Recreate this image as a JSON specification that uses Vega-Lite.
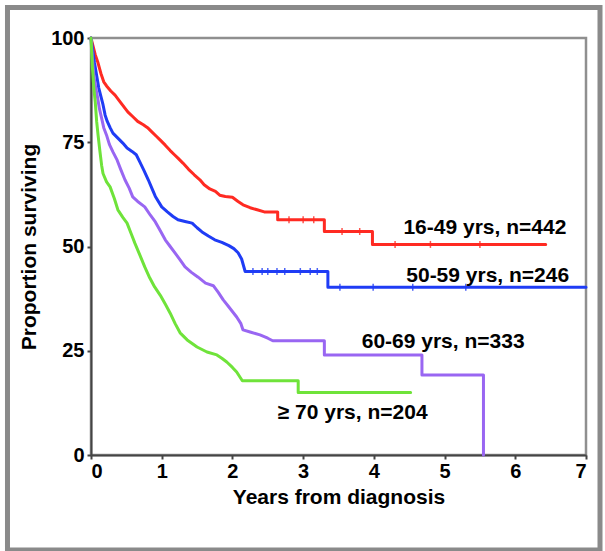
{
  "$schema": "https://vega.github.io/schema/vega-lite/v6.json",
  "width": 495,
  "height": 417,
  "autosize": {"type": "none"},
  "padding": {"left": 91, "top": 38, "right": 19, "bottom": 96},
  "background": "white",
  "config": {
    "font": "Liberation Sans",
    "view": {"stroke": "#8f8f8f", "strokeWidth": 2.5},
    "axis": {
      "grid": false,
      "labelFont": "Liberation Sans",
      "labelFontWeight": "bold",
      "labelFontSize": 20,
      "labelColor": "#000000",
      "titleFont": "Liberation Sans",
      "titleFontWeight": "bold",
      "titleFontSize": 21,
      "titleColor": "#000000",
      "domainColor": "#444444",
      "domainWidth": 2,
      "tickColor": "#444444",
      "tickWidth": 2,
      "tickSize": 4
    },
    "axisX": {"labelPadding": 2, "titlePadding": 5, "labelAngle": 0, "format": "d"},
    "axisY": {"labelPadding": 3, "titlePadding": 11, "format": "d"}
  },
  "datasets": {
    "curves": [
      {"group": "16-49", "t": 0, "s": 100},
      {"group": "16-49", "t": 0.03, "s": 98},
      {"group": "16-49", "t": 0.06, "s": 96},
      {"group": "16-49", "t": 0.1, "s": 94},
      {"group": "16-49", "t": 0.14, "s": 91.5},
      {"group": "16-49", "t": 0.18, "s": 89.5},
      {"group": "16-49", "t": 0.22, "s": 88.5},
      {"group": "16-49", "t": 0.28, "s": 87.3},
      {"group": "16-49", "t": 0.34, "s": 86.3},
      {"group": "16-49", "t": 0.42, "s": 84.5},
      {"group": "16-49", "t": 0.52, "s": 82.3},
      {"group": "16-49", "t": 0.6, "s": 81},
      {"group": "16-49", "t": 0.66, "s": 80},
      {"group": "16-49", "t": 0.74, "s": 79.2},
      {"group": "16-49", "t": 0.8, "s": 78.5},
      {"group": "16-49", "t": 0.86, "s": 77.5},
      {"group": "16-49", "t": 0.92, "s": 76.5},
      {"group": "16-49", "t": 0.98, "s": 75.5},
      {"group": "16-49", "t": 1.05, "s": 74.3},
      {"group": "16-49", "t": 1.12, "s": 73},
      {"group": "16-49", "t": 1.18, "s": 72},
      {"group": "16-49", "t": 1.23, "s": 71.2},
      {"group": "16-49", "t": 1.3, "s": 70},
      {"group": "16-49", "t": 1.38, "s": 68.5},
      {"group": "16-49", "t": 1.46, "s": 67.2},
      {"group": "16-49", "t": 1.54, "s": 66},
      {"group": "16-49", "t": 1.6, "s": 64.8},
      {"group": "16-49", "t": 1.68, "s": 63.8},
      {"group": "16-49", "t": 1.76, "s": 63.2},
      {"group": "16-49", "t": 1.82, "s": 62.3},
      {"group": "16-49", "t": 1.9, "s": 62},
      {"group": "16-49", "t": 2.0, "s": 61.8},
      {"group": "16-49", "t": 2.08, "s": 60.8},
      {"group": "16-49", "t": 2.15, "s": 60},
      {"group": "16-49", "t": 2.25, "s": 59.3},
      {"group": "16-49", "t": 2.35, "s": 58.8},
      {"group": "16-49", "t": 2.45, "s": 58.3},
      {"group": "16-49", "t": 2.64, "s": 58.3},
      {"group": "16-49", "t": 2.64, "s": 56.4},
      {"group": "16-49", "t": 3.3, "s": 56.4},
      {"group": "16-49", "t": 3.3, "s": 53.6},
      {"group": "16-49", "t": 3.98, "s": 53.6},
      {"group": "16-49", "t": 3.98, "s": 50.5},
      {"group": "16-49", "t": 6.43, "s": 50.5},

      {"group": "50-59", "t": 0, "s": 100},
      {"group": "50-59", "t": 0.02, "s": 97.5},
      {"group": "50-59", "t": 0.05, "s": 94},
      {"group": "50-59", "t": 0.08, "s": 91},
      {"group": "50-59", "t": 0.11, "s": 88},
      {"group": "50-59", "t": 0.14, "s": 86},
      {"group": "50-59", "t": 0.17, "s": 84},
      {"group": "50-59", "t": 0.2, "s": 81.5},
      {"group": "50-59", "t": 0.23, "s": 80},
      {"group": "50-59", "t": 0.27, "s": 78.5},
      {"group": "50-59", "t": 0.31, "s": 77.2},
      {"group": "50-59", "t": 0.38, "s": 76},
      {"group": "50-59", "t": 0.45, "s": 74.8},
      {"group": "50-59", "t": 0.51, "s": 73.6},
      {"group": "50-59", "t": 0.58, "s": 72.8},
      {"group": "50-59", "t": 0.64, "s": 72},
      {"group": "50-59", "t": 0.69, "s": 70.3},
      {"group": "50-59", "t": 0.75, "s": 68.2},
      {"group": "50-59", "t": 0.81, "s": 66},
      {"group": "50-59", "t": 0.86, "s": 64},
      {"group": "50-59", "t": 0.91, "s": 62},
      {"group": "50-59", "t": 1.0, "s": 59.5},
      {"group": "50-59", "t": 1.08, "s": 58.3},
      {"group": "50-59", "t": 1.16, "s": 57.2},
      {"group": "50-59", "t": 1.23, "s": 56.4},
      {"group": "50-59", "t": 1.33, "s": 56},
      {"group": "50-59", "t": 1.43, "s": 55.6},
      {"group": "50-59", "t": 1.5, "s": 54.5},
      {"group": "50-59", "t": 1.57, "s": 53.5},
      {"group": "50-59", "t": 1.66, "s": 52.5},
      {"group": "50-59", "t": 1.75, "s": 51.6},
      {"group": "50-59", "t": 1.85, "s": 51},
      {"group": "50-59", "t": 1.95, "s": 50.2},
      {"group": "50-59", "t": 2.02, "s": 49.5},
      {"group": "50-59", "t": 2.08, "s": 48.5},
      {"group": "50-59", "t": 2.13, "s": 47},
      {"group": "50-59", "t": 2.18, "s": 44},
      {"group": "50-59", "t": 3.35, "s": 44},
      {"group": "50-59", "t": 3.35, "s": 40.2},
      {"group": "50-59", "t": 7.0, "s": 40.2},

      {"group": "60-69", "t": 0, "s": 100},
      {"group": "60-69", "t": 0.02, "s": 95},
      {"group": "60-69", "t": 0.04, "s": 91},
      {"group": "60-69", "t": 0.06, "s": 88.7},
      {"group": "60-69", "t": 0.09, "s": 86},
      {"group": "60-69", "t": 0.12, "s": 83},
      {"group": "60-69", "t": 0.15, "s": 80.8},
      {"group": "60-69", "t": 0.18, "s": 78.5},
      {"group": "60-69", "t": 0.22, "s": 76.7},
      {"group": "60-69", "t": 0.26, "s": 74.5},
      {"group": "60-69", "t": 0.31, "s": 72.7},
      {"group": "60-69", "t": 0.37, "s": 70.7},
      {"group": "60-69", "t": 0.42, "s": 68.5},
      {"group": "60-69", "t": 0.48, "s": 66},
      {"group": "60-69", "t": 0.54, "s": 64},
      {"group": "60-69", "t": 0.59, "s": 61.9},
      {"group": "60-69", "t": 0.66, "s": 60.8},
      {"group": "60-69", "t": 0.76, "s": 59.5},
      {"group": "60-69", "t": 0.84, "s": 57.5},
      {"group": "60-69", "t": 0.91, "s": 55.9},
      {"group": "60-69", "t": 0.98, "s": 53.8},
      {"group": "60-69", "t": 1.05, "s": 51.6},
      {"group": "60-69", "t": 1.12, "s": 50},
      {"group": "60-69", "t": 1.19, "s": 48.4},
      {"group": "60-69", "t": 1.26, "s": 46.8},
      {"group": "60-69", "t": 1.33, "s": 45.1},
      {"group": "60-69", "t": 1.42, "s": 43.8},
      {"group": "60-69", "t": 1.51, "s": 42.7},
      {"group": "60-69", "t": 1.62, "s": 41.2},
      {"group": "60-69", "t": 1.73, "s": 40.6},
      {"group": "60-69", "t": 1.8, "s": 39},
      {"group": "60-69", "t": 1.87, "s": 37.2},
      {"group": "60-69", "t": 1.95, "s": 35.5},
      {"group": "60-69", "t": 2.06, "s": 33.1},
      {"group": "60-69", "t": 2.12, "s": 31.5},
      {"group": "60-69", "t": 2.15, "s": 30},
      {"group": "60-69", "t": 2.25, "s": 29.5},
      {"group": "60-69", "t": 2.39, "s": 28.8},
      {"group": "60-69", "t": 2.5, "s": 28},
      {"group": "60-69", "t": 2.57, "s": 27.4},
      {"group": "60-69", "t": 3.3, "s": 27.4},
      {"group": "60-69", "t": 3.3, "s": 24},
      {"group": "60-69", "t": 4.68, "s": 24},
      {"group": "60-69", "t": 4.68, "s": 19.2},
      {"group": "60-69", "t": 5.55, "s": 19.2},
      {"group": "60-69", "t": 5.55, "s": 0},

      {"group": "70+", "t": 0, "s": 100},
      {"group": "70+", "t": 0.02, "s": 93},
      {"group": "70+", "t": 0.04, "s": 88},
      {"group": "70+", "t": 0.06, "s": 84.7},
      {"group": "70+", "t": 0.08, "s": 80},
      {"group": "70+", "t": 0.1, "s": 76.7},
      {"group": "70+", "t": 0.125, "s": 73},
      {"group": "70+", "t": 0.15, "s": 69.5},
      {"group": "70+", "t": 0.17, "s": 67.5},
      {"group": "70+", "t": 0.22, "s": 65.5},
      {"group": "70+", "t": 0.27, "s": 64.3},
      {"group": "70+", "t": 0.33, "s": 61.5},
      {"group": "70+", "t": 0.38, "s": 58.8},
      {"group": "70+", "t": 0.45, "s": 57},
      {"group": "70+", "t": 0.51, "s": 55.6},
      {"group": "70+", "t": 0.57, "s": 53},
      {"group": "70+", "t": 0.62, "s": 50.8},
      {"group": "70+", "t": 0.69, "s": 48},
      {"group": "70+", "t": 0.76, "s": 45.1},
      {"group": "70+", "t": 0.83, "s": 42.5},
      {"group": "70+", "t": 0.9, "s": 40.3},
      {"group": "70+", "t": 0.98, "s": 38.3},
      {"group": "70+", "t": 1.05, "s": 36.2},
      {"group": "70+", "t": 1.12, "s": 34},
      {"group": "70+", "t": 1.19, "s": 31.5},
      {"group": "70+", "t": 1.26, "s": 29.3},
      {"group": "70+", "t": 1.36, "s": 27.6},
      {"group": "70+", "t": 1.5, "s": 25.9},
      {"group": "70+", "t": 1.64, "s": 24.7},
      {"group": "70+", "t": 1.78, "s": 24},
      {"group": "70+", "t": 1.85, "s": 23.2},
      {"group": "70+", "t": 1.92, "s": 22.3},
      {"group": "70+", "t": 2.0, "s": 21},
      {"group": "70+", "t": 2.06, "s": 19.9},
      {"group": "70+", "t": 2.14, "s": 17.8},
      {"group": "70+", "t": 2.93, "s": 17.8},
      {"group": "70+", "t": 2.93, "s": 15},
      {"group": "70+", "t": 4.52, "s": 15}
    ],
    "censored": [
      {"group": "50-59", "t": 2.29, "s": 44},
      {"group": "50-59", "t": 2.42, "s": 44},
      {"group": "50-59", "t": 2.5, "s": 44},
      {"group": "50-59", "t": 2.63, "s": 44},
      {"group": "50-59", "t": 2.74, "s": 44},
      {"group": "50-59", "t": 2.96, "s": 44},
      {"group": "50-59", "t": 3.1, "s": 44},
      {"group": "50-59", "t": 3.2, "s": 44},
      {"group": "50-59", "t": 3.52, "s": 40.2},
      {"group": "50-59", "t": 3.99, "s": 40.2},
      {"group": "50-59", "t": 4.55, "s": 40.2},
      {"group": "50-59", "t": 5.3, "s": 40.2},
      {"group": "16-49", "t": 2.8, "s": 56.4},
      {"group": "16-49", "t": 3.0, "s": 56.4},
      {"group": "16-49", "t": 3.15, "s": 56.4},
      {"group": "16-49", "t": 3.55, "s": 53.6},
      {"group": "16-49", "t": 3.8, "s": 53.6},
      {"group": "16-49", "t": 4.3, "s": 50.5},
      {"group": "16-49", "t": 4.8, "s": 50.5},
      {"group": "16-49", "t": 5.5, "s": 50.5}
    ],
    "labels": [
      {"label": "16-49 yrs, n=442", "t": 5.57, "s": 54.4},
      {"label": "50-59 yrs, n=246", "t": 5.61, "s": 42.9},
      {"label": "60-69 yrs, n=333", "t": 4.98, "s": 27.2},
      {"label": "≥ 70 yrs, n=204", "t": 3.7, "s": 10.1}
    ]
  },
  "layer": [
    {
      "data": {"values": [{}]},
      "mark": {"type": "rect", "filled": false, "stroke": "#8a8a8a", "strokeWidth": 5, "clip": false},
      "encoding": {
        "x": {"datum": -1.181, "type": "quantitative", "scale": {"domain": [0, 7], "nice": false, "zero": false}, "title": "Years from diagnosis", "axis": {"values": [0, 1, 2, 3, 4, 5, 6, 7]}},
        "x2": {"datum": 7.198},
        "y": {"datum": 107.31, "type": "quantitative", "scale": {"domain": [0, 100], "nice": false}, "title": "Proportion surviving", "axis": {"values": [0, 25, 50, 75, 100]}},
        "y2": {"datum": -22.78}
      }
    },
    {
      "data": {"name": "curves"},
      "mark": {"type": "line", "strokeWidth": 3, "strokeJoin": "round", "strokeCap": "round"},
      "encoding": {
        "x": {"field": "t", "type": "quantitative", "scale": {"domain": [0, 7], "nice": false, "zero": false}, "title": "Years from diagnosis", "axis": {"values": [0, 1, 2, 3, 4, 5, 6, 7]}},
        "y": {"field": "s", "type": "quantitative", "scale": {"domain": [0, 100], "nice": false}, "title": "Proportion surviving", "axis": {"values": [0, 25, 50, 75, 100]}},
        "color": {"field": "group", "type": "nominal", "scale": {"domain": ["16-49", "50-59", "60-69", "70+"], "range": ["#ff2a22", "#1f3cf5", "#9966f2", "#6fe33a"]}, "legend": null},
        "order": [{"field": "t", "type": "quantitative"}, {"field": "s", "type": "quantitative", "sort": "descending"}]
      }
    },
    {
      "data": {"name": "censored"},
      "mark": {"type": "tick", "orient": "vertical", "size": 7, "thickness": 1.5, "opacity": 0.8},
      "encoding": {
        "x": {"field": "t", "type": "quantitative", "scale": {"domain": [0, 7], "nice": false, "zero": false}, "title": "Years from diagnosis"},
        "y": {"field": "s", "type": "quantitative", "scale": {"domain": [0, 100], "nice": false}, "title": "Proportion surviving"},
        "color": {"field": "group", "type": "nominal", "scale": {"domain": ["16-49", "50-59", "60-69", "70+"], "range": ["#ff2a22", "#1f3cf5", "#9966f2", "#6fe33a"]}, "legend": null}
      }
    },
    {
      "data": {"name": "labels"},
      "mark": {"type": "text", "font": "Liberation Sans", "fontWeight": "bold", "fontSize": 21, "color": "#000000", "align": "center", "baseline": "middle"},
      "encoding": {
        "x": {"field": "t", "type": "quantitative", "scale": {"domain": [0, 7], "nice": false, "zero": false}, "title": "Years from diagnosis"},
        "y": {"field": "s", "type": "quantitative", "scale": {"domain": [0, 100], "nice": false}, "title": "Proportion surviving"},
        "text": {"field": "label"}
      }
    }
  ]
}
